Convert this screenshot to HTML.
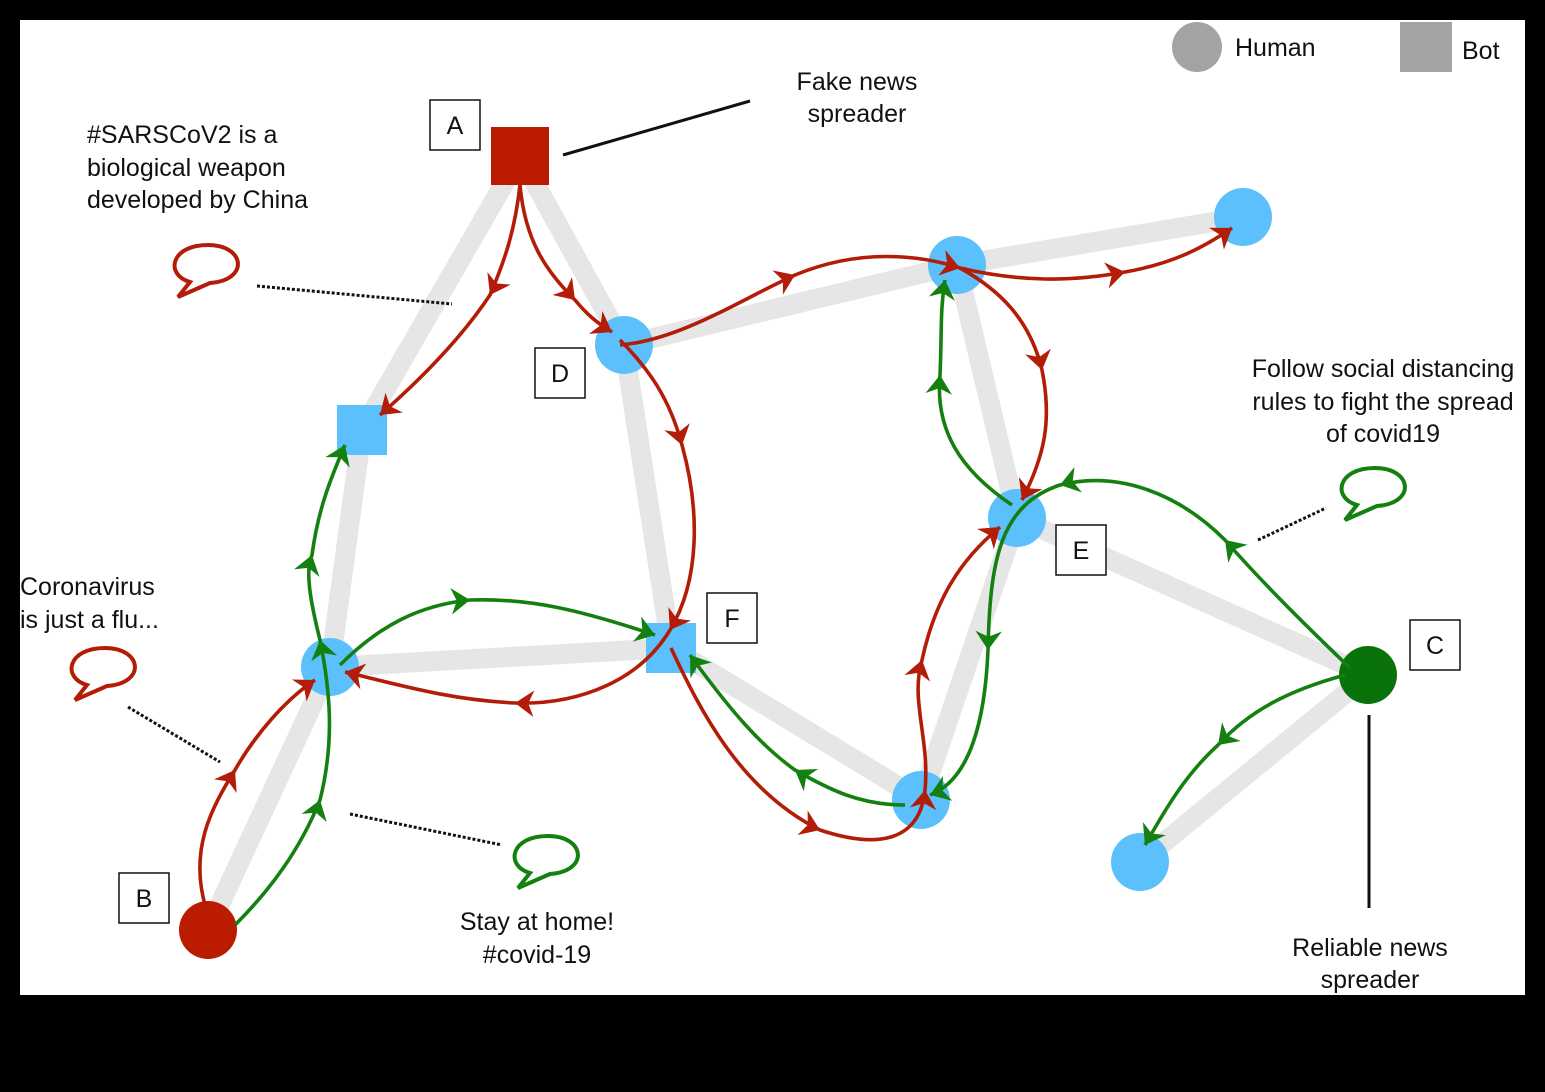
<!DOCTYPE html>
<html><head><meta charset="utf-8"><style>
html,body{margin:0;padding:0;background:#000;}
svg{display:block;}
text{font-family:"Liberation Sans",sans-serif;font-size:25px;fill:#111;}
</style></head><body>
<svg width="1545" height="1092" viewBox="0 0 1545 1092" xmlns="http://www.w3.org/2000/svg">
<defs>
<marker id="ar" viewBox="0 0 10 10" refX="8" refY="5" markerWidth="7" markerHeight="7" orient="auto" markerUnits="userSpaceOnUse" style="overflow:visible">
<path d="M-12,-9 L8,5 L-12,19 L-6,5 Z" fill="#b31c06" transform="translate(8,5) scale(1.35) translate(-8,-5)"/></marker>
<marker id="ag" viewBox="0 0 10 10" refX="8" refY="5" markerWidth="7" markerHeight="7" orient="auto" markerUnits="userSpaceOnUse" style="overflow:visible">
<path d="M-12,-9 L8,5 L-12,19 L-6,5 Z" fill="#13800f" transform="translate(8,5) scale(1.35) translate(-8,-5)"/></marker>
</defs>
<rect x="20" y="20" width="1505" height="975" fill="#fff"/>
<g stroke="#e6e6e6" stroke-width="20" stroke-linecap="round" fill="none">
<line x1="520" y1="156" x2="624" y2="345"/>
<line x1="520" y1="156" x2="362" y2="430"/>
<line x1="362" y1="430" x2="330" y2="667"/>
<line x1="330" y1="667" x2="671" y2="648"/>
<line x1="330" y1="667" x2="208" y2="930"/>
<line x1="624" y1="345" x2="671" y2="648"/>
<line x1="624" y1="345" x2="957" y2="265"/>
<line x1="957" y1="265" x2="1243" y2="217"/>
<line x1="957" y1="265" x2="1017" y2="518"/>
<line x1="1017" y1="518" x2="921" y2="800"/>
<line x1="671" y1="648" x2="921" y2="800"/>
<line x1="1017" y1="518" x2="1368" y2="675"/>
<line x1="1368" y1="675" x2="1140" y2="862"/>
</g>
<rect x="491" y="127" width="58" height="58" fill="#bb1b00"/>
<rect x="337" y="405" width="50" height="50" fill="#5bc0fb"/>
<rect x="646" y="623" width="50" height="50" fill="#5bc0fb"/>
<g fill="#5bc0fb">
<circle cx="624" cy="345" r="29"/><circle cx="957" cy="265" r="29"/><circle cx="1243" cy="217" r="29"/>
<circle cx="1017" cy="518" r="29"/><circle cx="330" cy="667" r="29"/><circle cx="921" cy="800" r="29"/>
<circle cx="1140" cy="862" r="29"/></g>
<circle cx="208" cy="930" r="29" fill="#bb1b00"/>
<circle cx="1368" cy="675" r="29" fill="#0a720a"/>
<g stroke="#b31c06" stroke-width="3.6" fill="none" marker-mid="url(#ar)" marker-end="url(#ar)">
<path d="M520,185 C515,230 505,260 490,295 C460,340 420,380 380,415"/>
<path d="M520,185 C525,240 545,270 575,300 C585,312 595,322 612,332"/>
<path d="M620,345 C680,340 740,300 795,275 C860,248 920,255 960,268 C1020,282 1070,282 1125,272 C1170,264 1200,250 1232,228"/>
<path d="M960,268 C1000,290 1030,320 1042,370 C1052,420 1045,455 1022,500"/>
<path d="M620,340 C650,370 670,400 682,445 C700,510 700,580 670,630 C640,680 580,705 515,703 C450,700 400,685 345,672"/>
<path d="M671,648 C700,710 740,790 820,830 C880,850 920,840 925,790 C930,740 910,700 922,660 C935,600 960,560 1000,527"/>
<path d="M205,905 C190,850 210,810 235,770 C255,735 285,700 315,680"/>
</g>
<g stroke="#13800f" stroke-width="3.6" fill="none" marker-mid="url(#ag)" marker-end="url(#ag)">
<path d="M235,925 C270,890 300,850 320,800 C335,740 330,690 320,640 C310,600 305,570 312,555 C318,510 330,480 345,445"/>
<path d="M340,665 C380,625 420,605 470,600 C530,598 580,610 655,635"/>
<path d="M905,805 C860,805 830,790 795,770 C760,745 730,710 690,655"/>
<path d="M1012,505 C960,470 935,430 940,375 C942,330 940,310 945,280"/>
<path d="M1350,668 C1300,620 1260,580 1225,540 C1180,495 1120,470 1060,485 C1000,505 990,560 988,650 C985,720 970,780 930,795"/>
<path d="M1345,675 C1290,690 1250,710 1218,745 C1185,775 1165,810 1145,845"/>
</g>
<g fill="#fff" stroke="#111" stroke-width="1.5">
<rect x="430" y="100" width="50" height="50"/><rect x="535" y="348" width="50" height="50"/>
<rect x="119" y="873" width="50" height="50"/><rect x="707" y="593" width="50" height="50"/>
<rect x="1056" y="525" width="50" height="50"/><rect x="1410" y="620" width="50" height="50"/>
</g>
<g text-anchor="middle">
<text x="455" y="134">A</text><text x="560" y="382">D</text><text x="144" y="907">B</text>
<text x="732" y="627">F</text><text x="1081" y="559">E</text><text x="1435" y="654">C</text>
</g>
<circle cx="1197" cy="47" r="25" fill="#a3a3a3"/>
<text x="1235" y="56">Human</text>
<rect x="1400" y="22" width="52" height="50" fill="#a3a3a3"/>
<text x="1462" y="59">Bot</text>
<line x1="563" y1="155" x2="750" y2="101" stroke="#111" stroke-width="3"/>
<line x1="1369" y1="715" x2="1369" y2="908" stroke="#111" stroke-width="3"/>
<g stroke="#111" stroke-width="3" stroke-dasharray="3,2">
<line x1="257" y1="286" x2="452" y2="304"/>
<line x1="128" y1="707" x2="220" y2="762"/>
<line x1="350" y1="814" x2="502" y2="845"/>
<line x1="1258" y1="540" x2="1326" y2="508"/>
</g>
<g fill="#fff" stroke-width="4">
<path d="M190,282 C165,275 170,245 208,245 C245,245 250,280 210,283 L178,297 Z" stroke="#b31c06"/>
<path d="M87,685 C62,678 67,648 105,648 C142,648 147,683 107,686 L75,700 Z" stroke="#b31c06"/>
<path d="M530,873 C505,866 510,836 548,836 C585,836 590,871 550,874 L518,888 Z" stroke="#13800f"/>
<path d="M1357,505 C1332,498 1337,468 1375,468 C1412,468 1417,503 1377,506 L1345,520 Z" stroke="#13800f"/>
</g>
<g text-anchor="middle">
<text x="857" y="90">Fake news</text><text x="857" y="122">spreader</text>
<text x="1370" y="956">Reliable news</text><text x="1370" y="988">spreader</text>
<text x="537" y="930">Stay at home!</text><text x="537" y="963">#covid-19</text>
<text x="1383" y="377">Follow social distancing</text>
<text x="1383" y="410">rules to fight the spread</text>
<text x="1383" y="442">of covid19</text>
</g>
<text x="87" y="143">#SARSCoV2 is a</text>
<text x="87" y="176">biological weapon</text>
<text x="87" y="208">developed by China</text>
<text x="20" y="595">Coronavirus</text>
<text x="20" y="628">is just a flu...</text>
</svg>
</body></html>
